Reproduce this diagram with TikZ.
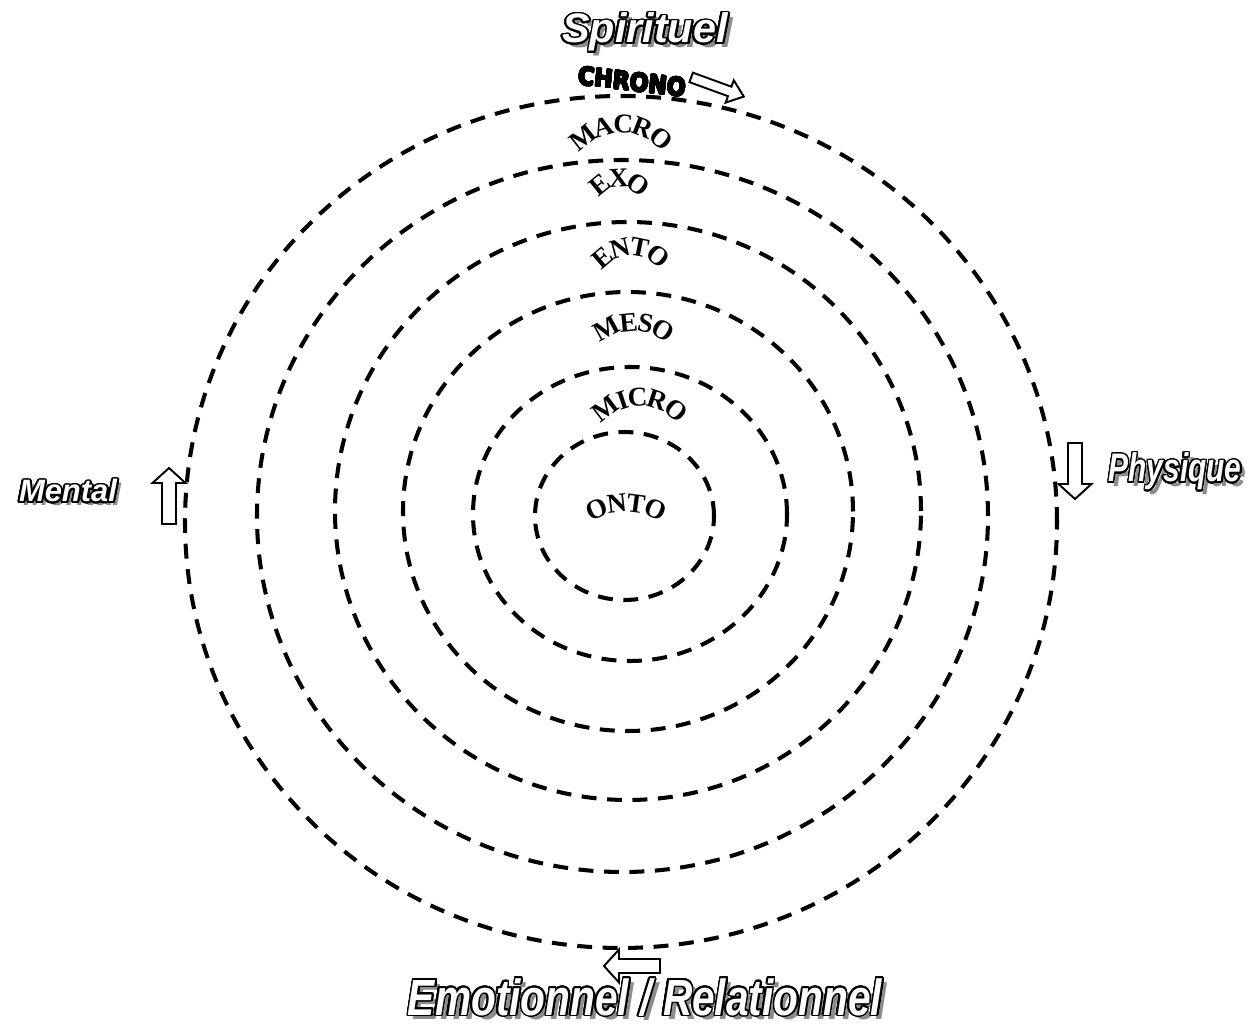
\documentclass[tikz,border=0pt]{standalone}
\usepackage{tikz}
\usepackage{fontspec}
\usepackage[copies]{contour}
\usetikzlibrary{decorations.text}

\newfontfamily\ringfont{Liberation Serif}
\newfontfamily\artfont{Liberation Sans}
\newfontfamily\chronofont{DejaVu Sans}
\contourlength{1.1pt}
\contournumber{24}

\tikzset{
  ring/.style={line width=2.3pt, dash pattern=on 8.5pt off 6pt},
  ringlabel/.style={decorate, decoration={text along path, text align=center, raise=-4pt,
      text={|\ringfont\bfseries\fontsize{15.5}{17}\selectfont|#1}}},
  artlabel/.style={anchor=base, text=white, inner sep=0pt,
      font=\artfont\bfseries\itshape\fontsize{#1}{#1}\selectfont},
  artshadow/.style={anchor=base, text=black!45, inner sep=0pt,
      font=\artfont\bfseries\itshape\fontsize{#1}{#1}\selectfont},
  blockarrow/.pic={
    \draw[line width=1.1pt, fill=white] (-28,-7) -- (13,-7) -- (13,-16.5) -- (28,0)
      -- (13,16.5) -- (13,7) -- (-28,7) -- cycle;
  }
}

\begin{document}
\begin{tikzpicture}[x=0.2mm, y=0.2mm]
\useasboundingbox (-624,-510) rectangle (630,516);

% Rings
\foreach \cx/\cy/\rx/\ry in {-3/-6/436/426, -1.5/0/365.5/356, 4/5/293/289,
                             4/4.5/225/219.5, 6/2/157/147, 0.5/0/89.5/84}
  \draw[ring] (\cx,\cy) ellipse [x radius=\rx, y radius=\ry];

% Ring names
\path[ringlabel=MACRO] (-63,330) arc[start angle=180, end angle=0, radius=60];
\path[ringlabel=EXO]   (-34,306) arc[start angle=180, end angle=0, radius=30];
\path[ringlabel=ENTO]  (-35,225) arc[start angle=180, end angle=0, radius=42];
\path[ringlabel=MESO]  (-45,137) arc[start angle=180, end angle=0, radius=55];
\path[ringlabel=MICRO] (-39,62)  arc[start angle=180, end angle=0, radius=55];
\path[ringlabel=ONTO]  (-73,-64) arc[start angle=180, end angle=0, radius=75];

\contourlength{0.5pt}
\node[font=\chronofont\bfseries\fontsize{14}{16}\selectfont, xscale=0.9, rotate=-6,
      inner sep=0pt] (chrono) at (8,434) {\contour{black}{CHRONO}};
\pic[rotate=-20, yscale=0.72] at (93.5,429) {blockarrow};
\contourlength{1.1pt}

% Directions
\node[artshadow=23.5] at (26,468) {Spirituel};
\node[artlabel=23.5] (spirituel) at (21,473) {\contour{black}{Spirituel}};

\node[artshadow=17.6] at (-552,10) {Mental};
\node[artlabel=17.6] (mental) at (-556,14) {\contour{black}{Mental}};
\pic[rotate=90] at (-455,20) {blockarrow};

\node[artshadow=22.7, xscale=0.75] at (556,29) {Physique};
\node[artlabel=22.7, xscale=0.75] (physique) at (551,34) {\contour{black}{Physique}};
\pic[rotate=-90] at (451,45) {blockarrow};

\node[artshadow=28.9, xscale=0.8] at (26,-503) {Emotionnel / Relationnel};
\node[artlabel=28.9, xscale=0.8] (emotionnel) at (21,-499)
  {\contour{black}{Emotionnel / Relationnel}};
\pic[rotate=180] at (8,-450) {blockarrow};
\end{tikzpicture}
\end{document}
